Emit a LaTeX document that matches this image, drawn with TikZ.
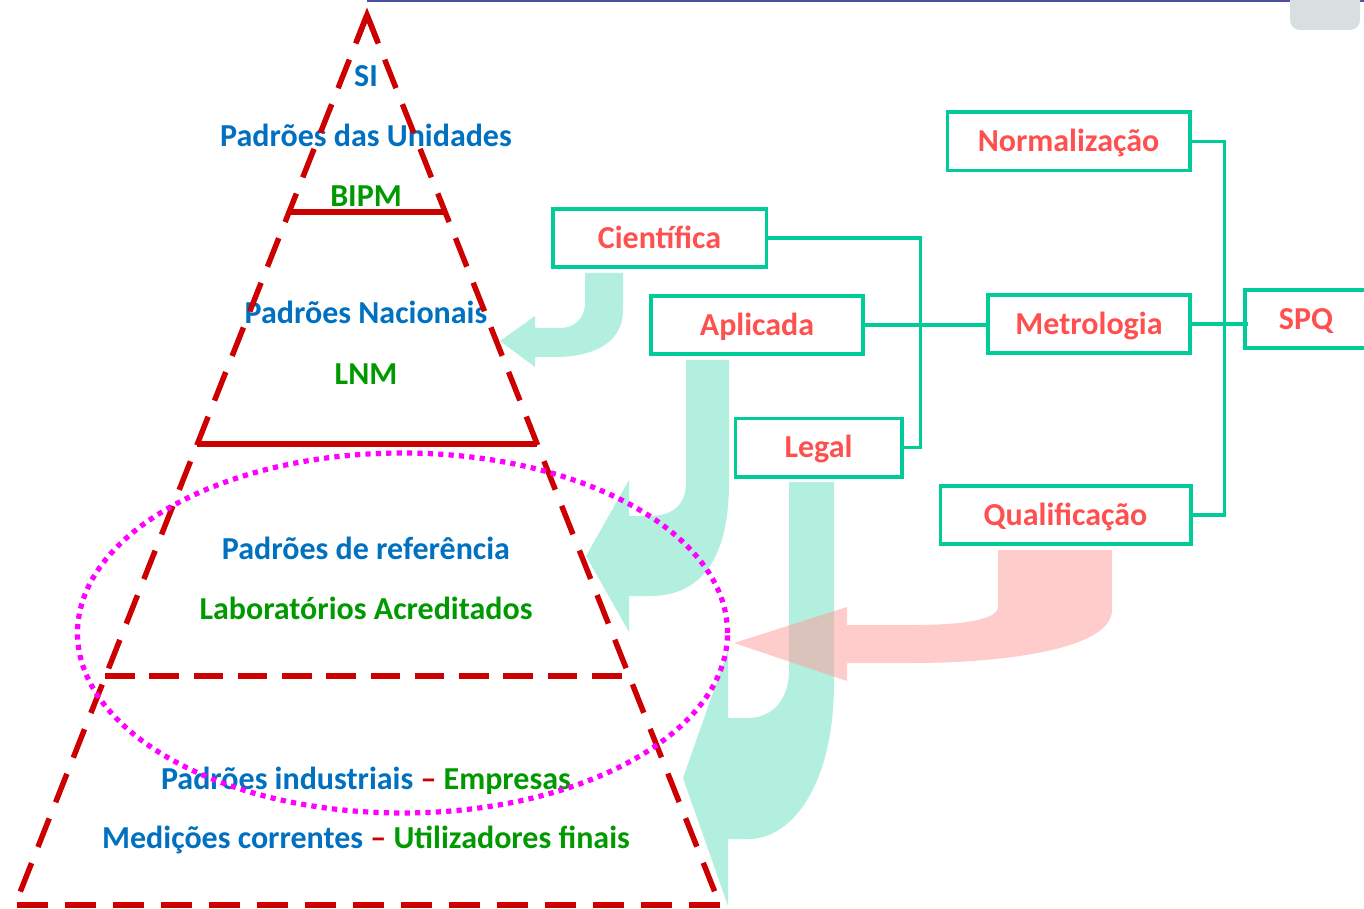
\documentclass[tikz,border=0pt]{standalone}
\usepackage{fontspec}
\setmainfont{Carlito}
\usetikzlibrary{calc}
\definecolor{lred}{HTML}{CC0000}
\definecolor{tblue}{HTML}{0070C0}
\definecolor{tgreen}{HTML}{009900}
\definecolor{bred}{HTML}{FF5050}
\definecolor{bteal}{HTML}{00CC99}
\definecolor{ateal}{HTML}{B3EFDF}
\definecolor{apink}{HTML}{FF9999}
\definecolor{mag}{HTML}{FF00FF}
\definecolor{topline}{HTML}{4F4F9F}
\definecolor{tab}{HTML}{D9DEE1}
\newcommand{\lbl}{\fontsize{24}{28}\selectfont\bfseries}
\begin{document}
\begin{tikzpicture}[x=0.75pt,y=-0.75pt,
  redln/.style={draw=lred, line width=4.1pt},
  dashln/.style={redln, dash pattern=on 23pt off 13pt},
  box/.style={draw=bteal, line width=2.5pt, fill=white, text=bred, font=\lbl,
    inner sep=0pt, text height=15.5pt, text depth=0pt},
  wire/.style={draw=bteal, line width=2.4pt},
  tarrow/.style={fill=ateal},
  parrow/.style={fill=apink, fill opacity=0.5},
  ptext/.style={font=\lbl, inner sep=0pt, anchor=base}]
\useasboundingbox (0,0) rectangle (1364,909);
% top decoration
\draw[topline, line width=1.2pt] (367,1) -- (1364,1);
\fill[tab, rounded corners=7.5pt] (1290,-20) rectangle (1360,30);

% big arrows
\fill[tarrow] (585,273) -- (623,273) -- (623,310) .. controls (623,345) and (590,357) .. (555,357)
  -- (535,357) -- (535,367) -- (500,341) -- (535,316) -- (535,328) -- (560,328)
  .. controls (575,328) and (585,318) .. (585,303) -- cycle;
\fill[tarrow] (686,360) -- (729,360) -- (729,483) .. controls (729,560) and (700,596) .. (650,596)
  -- (629,596) -- (629,632) -- (586,556) -- (629,480) -- (629,516) -- (650,516)
  .. controls (672,516) and (686,505) .. (686,483) -- cycle;
\fill[tarrow] (789,482) -- (834,482) -- (834,683) .. controls (834,780) and (795,839) .. (748,839)
  -- (728,839) -- (728,906) -- (683,778) -- (728,650) -- (728,718) -- (748,718)
  .. controls (772,718) and (789,700) .. (789,670) -- cycle;
\fill[parrow] (998,550) -- (1112,550) -- (1112,610) .. controls (1112,650) and (1000,663) .. (913,663)
  -- (847,663) -- (847,681) -- (734,643) -- (847,607) -- (847,625) -- (913,625)
  .. controls (970,625) and (998,618) .. (998,607) -- cycle;

% pyramid texts
\node[ptext, text=tblue] (si) at (366,87) {SI};
\node[ptext, text=tblue] (pu) at (366,147) {Padrões das Unidades};
\node[ptext, text=tgreen] (bipm) at (366,207) {BIPM};
\node[ptext, text=tblue] (pn) at (366,324) {Padrões Nacionais};
\node[ptext, text=tgreen] (lnm) at (366,384) {LNM};
\node[ptext, text=tblue] (pr) at (366,559) {Padrões de referência};
\node[ptext, text=tgreen] (la) at (366,619) {Laboratórios Acreditados};
\node[ptext] (pi) at (366,789) {\textcolor{tblue}{Padrões industriais} \textcolor{lred}{–} \textcolor{tgreen}{Empresas}};
\node[ptext] (mc) at (366,848) {\textcolor{tblue}{Medições correntes} \textcolor{lred}{–} \textcolor{tgreen}{Utilizadores finais}};

% pyramid
\coordinate (apex) at (367,15);
\coordinate (bl) at (15,905);
\coordinate (br) at (720,905);
\draw[dashln] (apex) -- (bl);
\draw[dashln] (apex) -- (br);
\draw[dashln] (br) -- (bl);
\draw[redln, line join=miter] ($(apex)!21pt!(bl)$) -- (apex) -- ($(apex)!21pt!(br)$);
\draw[redln] (289,212) -- (445,212);
\draw[redln] (197,444) -- (537,444);
\draw[redln, dash pattern=on 22.2pt off 11pt] (105,676) -- (629,676);

% dotted ellipse
\draw[mag, line width=3.9pt, dash pattern=on 3.9pt off 3.9pt] (402.5,633) ellipse [x radius=243.75pt, y radius=135pt];

% boxes
\node[box, minimum width=182pt, minimum height=44pt] (norm) at (1068.5,141.5) {Normalização};
\node[box, minimum width=160pt, minimum height=43.5pt] (cient) at (659.5,238) {Científica};
\node[box, minimum width=159pt, minimum height=43.5pt] (apl) at (757,325) {Aplicada};
\node[box, minimum width=151.5pt, minimum height=43.5pt] (metro) at (1089,324) {Metrologia};
\node[box, minimum width=91.5pt, minimum height=43.5pt] (spq) at (1306,319) {SPQ};
\node[box, minimum width=125pt, minimum height=44pt] (legal) at (818.5,447.5) {Legal};
\node[box, minimum width=188pt, minimum height=43.5pt] (qual) at (1065.5,515) {Qualificação};

% connectors
\draw[wire] (cient.east) -- ++(153,0) coordinate (busa) |- (legal.east);
\draw[wire] (apl.east) -- (apl.east -| metro.west);
\draw[wire] (norm.east) -- ++(33,0) coordinate (busb) |- (qual.east);
\draw[wire] (metro.east) -- ($(metro.east -| spq.west)+(5,0)$);
\end{tikzpicture}
\end{document}
